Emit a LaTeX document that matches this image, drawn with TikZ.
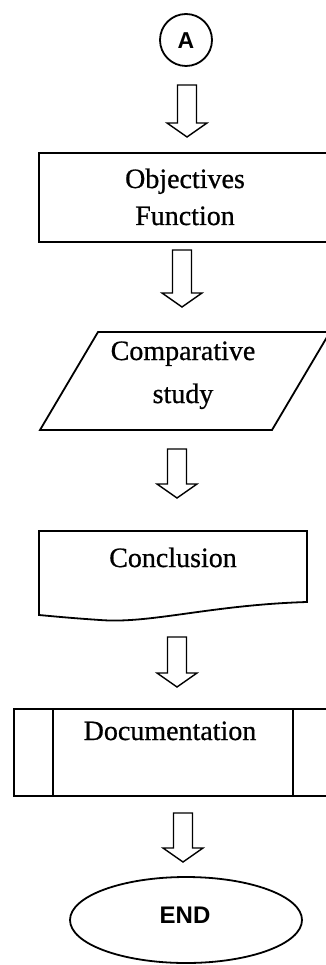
\documentclass[tikz,border=0pt]{standalone}
\usepackage{fontspec}
\setmainfont{Liberation Serif}
\newfontfamily\scanfont[FakeBold=0.7]{Liberation Serif}
\newfontfamily\headfont{Liberation Sans}
\usetikzlibrary{calc}
\newcommand{\blockarrow}[2]{%
  \draw[arrowline] let \p1=(#1), \p2=(#2) in
    (\x2-9.5pt,\y1) -- (\x2+9.5pt,\y1) -- (\x2+9.5pt,\y2+14pt) -- (\x2+20pt,\y2+14pt)
    -- (\x2,\y2) -- (\x2-20pt,\y2+14pt) -- (\x2-9.5pt,\y2+14pt) -- cycle;}
\begin{document}
\begin{tikzpicture}[x=1pt,y=-1pt,
  shapeline/.style={line width=1.8pt, line join=miter},
  arrowline/.style={line width=1.4pt, line join=miter},
  lbl/.style={font=\scanfont\fontsize{28}{30}\selectfont, anchor=base, inner sep=0pt},
  sanslbl/.style={font=\headfont\bfseries\fontsize{24}{26}\selectfont, anchor=base, inner sep=0pt}]
\useasboundingbox (0,0) rectangle (326,965);
\clip (0,0) rectangle (326,965);
\fill[white] (0,0) rectangle (326,965);

% connector A
\node[circle, draw, shapeline, minimum size=52pt, inner sep=0pt] (cA) at (186,40) {};
\node[sanslbl, font=\headfont\bfseries\fontsize{23}{25}\selectfont] (tA) at (186,49) {A};

% Objectives box
\draw[shapeline] (39,153) rectangle (345,242);
\node[lbl] (t1a) at (185,188) {Objectives};
\node[lbl] (t1b) at (185,225) {Function};

% Comparative study parallelogram
\draw[shapeline] (98,332) -- (330,332) -- (272,430) -- (40,430) -- cycle;
\node[lbl] (t2a) at (183,360) {Comparative};
\node[lbl] (t2b) at (183,403) {study};

% Conclusion document shape
\draw[shapeline] (39,531) -- (307,531) -- (307,602)
  .. controls (210,605) and (150,624) .. (100,620)
  .. controls (70,618) and (50,616) .. (39,615) -- cycle;
\node[lbl] (t3) at (173,567) {Conclusion};

% Documentation predefined process
\draw[shapeline] (14,709) rectangle (340,796);
\draw[shapeline] (53,709) -- (53,796);
\draw[shapeline] (293,709) -- (293,796);
\node[lbl] (t4) at (170,740) {Documentation};

% END ellipse
\draw[shapeline] (186,920) ellipse [x radius=116, y radius=43];
\node[sanslbl] (tEnd) at (185,923) {END};

% block arrows
\coordinate (a1s) at (187,85);  \coordinate (a1e) at (187,137);
\coordinate (a2s) at (181,250); \coordinate (a2e) at (182,307);
\coordinate (a3s) at (177,449); \coordinate (a3e) at (177,498);
\coordinate (a4s) at (177,637); \coordinate (a4e) at (177,687);
\coordinate (a5s) at (184,813); \coordinate (a5e) at (183,862);
\blockarrow{a1s}{a1e}
\blockarrow{a2s}{a2e}
\blockarrow{a3s}{a3e}
\blockarrow{a4s}{a4e}
\blockarrow{a5s}{a5e}
\end{tikzpicture}
\end{document}
